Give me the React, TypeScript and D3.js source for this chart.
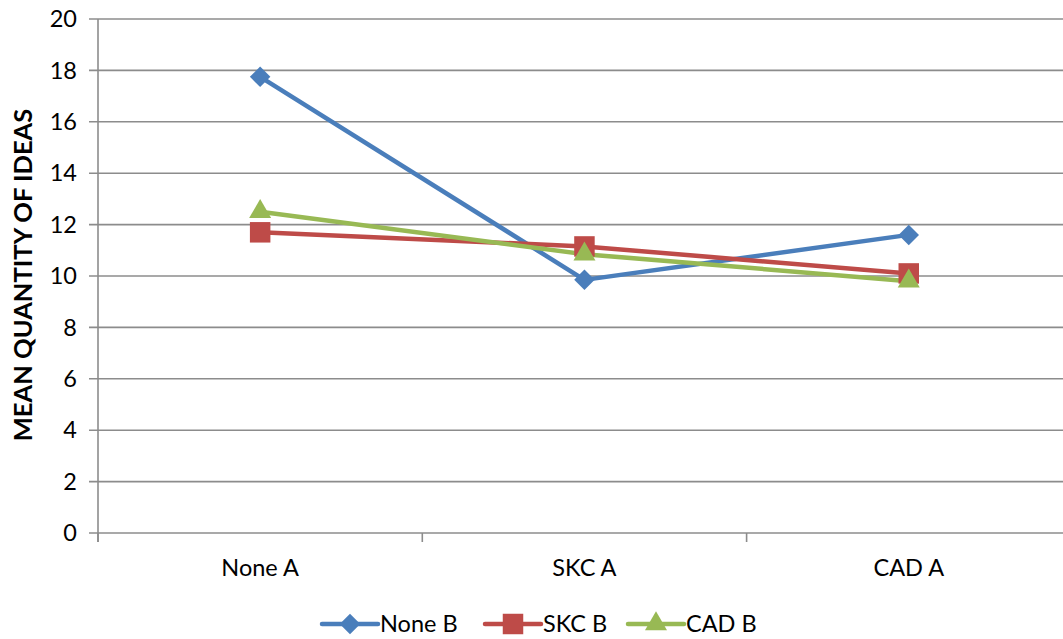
import React, { useEffect, useRef } from "react";
import * as d3 from "d3";

const categories = ["None A", "SKC A", "CAD A"];
const seriesNames = ["None B", "SKC B", "CAD B"];
const noneB = [17.75, 9.85, 11.6];
const skcB = [11.7, 11.15, 10.1];
const cadB = [12.5, 10.85, 9.8];
const yTicks = [0, 2, 4, 6, 8, 10, 12, 14, 16, 18, 20];
const yTitle = "MEAN QUANTITY OF IDEAS";

const colors = ["#4a7ebb", "#be4b48", "#98b954"];
const shapes = [d3.symbolSquare, d3.symbolSquare, d3.symbolTriangle];
const symSizes = [210, 420, 210];
const rotations = [45, 0, 0];

export default function App() {
  const ref = useRef<SVGSVGElement>(null);
  useEffect(() => {
    const svg = d3.select(ref.current);
    svg.selectAll("*").remove();
    const W = 1063;
    const left = 98, top = 19, bottom = 533, right = 98 + 3 * 324.3;
    const font = "Lato, 'Open Sans', sans-serif";
    const fs = 23.5;
    const x = d3.scaleBand().domain(categories).range([left, right]);
    const y = d3.scaleLinear().domain([0, 20]).range([bottom, top]);
    const grid = "#8c8c8c";

    svg.append("g").selectAll("line").data(yTicks).join("line")
      .attr("x1", left - 9).attr("x2", W).attr("y1", d => y(d)).attr("y2", d => y(d))
      .attr("stroke", grid).attr("stroke-width", 1.6);
    svg.append("line").attr("x1", left).attr("x2", left).attr("y1", top).attr("y2", bottom + 9)
      .attr("stroke", grid).attr("stroke-width", 1.6);
    const xt = categories.map((c) => x(c)!);
    svg.append("g").selectAll("line").data(xt).join("line")
      .attr("x1", d => d).attr("x2", d => d).attr("y1", bottom).attr("y2", bottom + 9)
      .attr("stroke", grid).attr("stroke-width", 1.6);

    svg.append("g").selectAll("text").data(yTicks).join("text")
      .attr("x", 77).attr("y", d => y(d)).attr("dy", "0.35em")
      .attr("text-anchor", "end").attr("font-family", font).attr("font-size", fs)
      .attr("fill", "#000").text(d => d);
    svg.append("g").selectAll("text").data(categories).join("text")
      .attr("x", d => x(d)! + x.bandwidth() / 2).attr("y", 576)
      .attr("text-anchor", "middle").attr("font-family", font).attr("font-size", fs)
      .attr("fill", "#000").text(d => d);
    svg.append("text").attr("transform", `translate(32,275) rotate(-90)`)
      .attr("text-anchor", "middle").attr("font-family", font).attr("font-size", 25.5)
      .attr("font-weight", "bold").attr("fill", "#000").text(yTitle);

    const data = [noneB, skcB, cadB];
    const line = d3.line<number>().x((_, i) => x(categories[i])! + x.bandwidth() / 2).y(d => y(d));
    data.forEach((s, k) => {
      svg.append("path").attr("d", line(s)!).attr("fill", "none")
        .attr("stroke", colors[k]).attr("stroke-width", 4.5).attr("stroke-linejoin", "round");
    });
    data.forEach((s, k) => {
      svg.append("g").selectAll("path").data(s).join("path")
        .attr("transform", (d, i) => `translate(${x(categories[i])! + x.bandwidth() / 2},${y(d)}) rotate(${rotations[k]})`)
        .attr("d", d3.symbol().type(shapes[k]).size(symSizes[k])()!)
        .attr("fill", colors[k]);
    });

    const lx = [322, 485, 628];
    seriesNames.forEach((n, k) => {
      const g = svg.append("g");
      g.append("line").attr("x1", lx[k]).attr("x2", lx[k] + 56).attr("y1", 624).attr("y2", 624)
        .attr("stroke", colors[k]).attr("stroke-width", 4.5).attr("stroke-linecap", "round");
      g.append("path").attr("transform", `translate(${lx[k] + 28},624) rotate(${rotations[k]})`)
        .attr("d", d3.symbol().type(shapes[k]).size(symSizes[k])()!).attr("fill", colors[k]);
      g.append("text").attr("x", lx[k] + 58).attr("y", 624).attr("dy", "0.35em")
        .attr("font-family", font).attr("font-size", fs).attr("fill", "#000").text(n);
    });
  }, []);
  return (
    <svg ref={ref} width={1063} height={639}
      style={{ position: "absolute", left: 0, top: 0, background: "#fff" }} />
  );
}
